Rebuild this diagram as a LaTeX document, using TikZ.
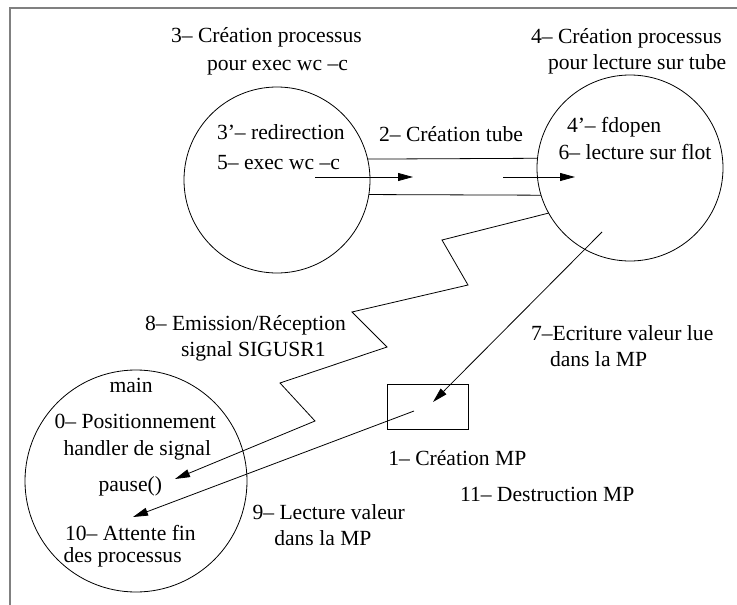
\documentclass[tikz,border=0pt]{standalone}
\usepackage{fontspec}
\setmainfont{Liberation Serif}
\usetikzlibrary{arrows.meta}
\begin{document}
\begin{tikzpicture}[x=1pt,y=-1pt,
  lbl/.style={anchor=base west, inner sep=0pt, outer sep=0pt, font=\fontsize{21.6}{26}\selectfont},
  proc/.style={circle, draw, line width=0.8pt, inner sep=0pt, outer sep=0pt},
  conn/.style={line width=0.8pt},
  arr/.style={line width=0.8pt, -{Triangle[length=15pt,width=8pt]}},
  frameline/.style={draw=gray, line width=2pt}]
\useasboundingbox (0,0) rectangle (737,605);
% frame (top and left)
\draw[frameline] (737,8) -- (10,8) -- (10,605);
% processes
\node[proc, minimum size=186pt] (c1) at (277,180) {};
\node[proc, minimum size=186pt] (c2) at (630,168) {};
\node[proc, minimum size=222pt] (cm) at (136,481) {};
\node[draw, line width=0.8pt, inner sep=0pt, outer sep=0pt, minimum width=81pt, minimum height=45pt] (mp) at (427.5,406.5) {};
% tube
\draw[conn] (c1.13.06) -- (c2.174.45);
\draw[conn] (c1.-9.6) -- (c2.197.2);
\coordinate (ta1) at (315,177);
\coordinate (ta2) at (413,177);
\coordinate (tb1) at (503,177);
\coordinate (tb2) at (575,177);
\draw[arr] (ta1) -- (ta2);
\draw[arr] (tb1) -- (tb2);
% signal zigzag
\coordinate (z1) at (442,240);
\coordinate (z2) at (468,285);
\coordinate (z3) at (352,312);
\coordinate (z4) at (387,347);
\coordinate (z5) at (280,383);
\coordinate (z6) at (315,421);
\coordinate (pz) at (175,479);
\draw[arr] (c2.209) -- (z1) -- (z2) -- (z3) -- (z4) -- (z5) -- (z6) -- (pz);
% write / read MP
\coordinate (w1) at (602,232);
\coordinate (w2) at (433,402);
\draw[arr] (w1) -- (w2);
\coordinate (r1) at (414,411);
\coordinate (r2) at (133,517);
\draw[arr] (r1) -- (r2);
% labels
\node[lbl] (t3a) at (171,42.7) {3– Création processus};
\node[lbl] (t3b) at (207,70) {pour exec wc –c};
\node[lbl] (t3c) at (217,139.5) {3’– redirection};
\node[lbl] (t5) at (217,169) {5– exec wc –c};
\node[lbl] (t2) at (379,141) {2– Création tube};
\node[lbl] (t4a) at (531,43) {4– Création processus};
\node[lbl] (t4b) at (548,69.5) {pour lecture sur tube};
\node[lbl] (t4c) at (567,132.5) {4’– fdopen};
\node[lbl] (t6) at (558.5,159.5) {6– lecture sur flot};
\node[lbl] (t8a) at (145,330) {8– Emission/Réception};
\node[lbl] (t8b) at (181,356.5) {signal SIGUSR1};
\node[lbl] (tmain) at (109.5,392) {main};
\node[lbl] (t0a) at (54.5,428.3) {0– Positionnement};
\node[lbl] (t0b) at (63.5,455) {handler de signal};
\node[lbl] (tpause) at (98.5,491.7) {pause()};
\node[lbl] (t10a) at (65,540) {10– Attente fin};
\node[lbl] (t10b) at (63.5,562.7) {des processus};
\node[lbl] (t9a) at (252.5,519) {9– Lecture valeur};
\node[lbl] (t9b) at (274.3,545) {dans la MP};
\node[lbl] (t7a) at (531,340) {7–Ecriture valeur lue};
\node[lbl] (t7b) at (550,366.7) {dans la MP};
\node[lbl] (t1) at (388.3,465) {1– Création MP};
\node[lbl] (t11) at (460,501) {11– Destruction MP};
\end{tikzpicture}
\end{document}
